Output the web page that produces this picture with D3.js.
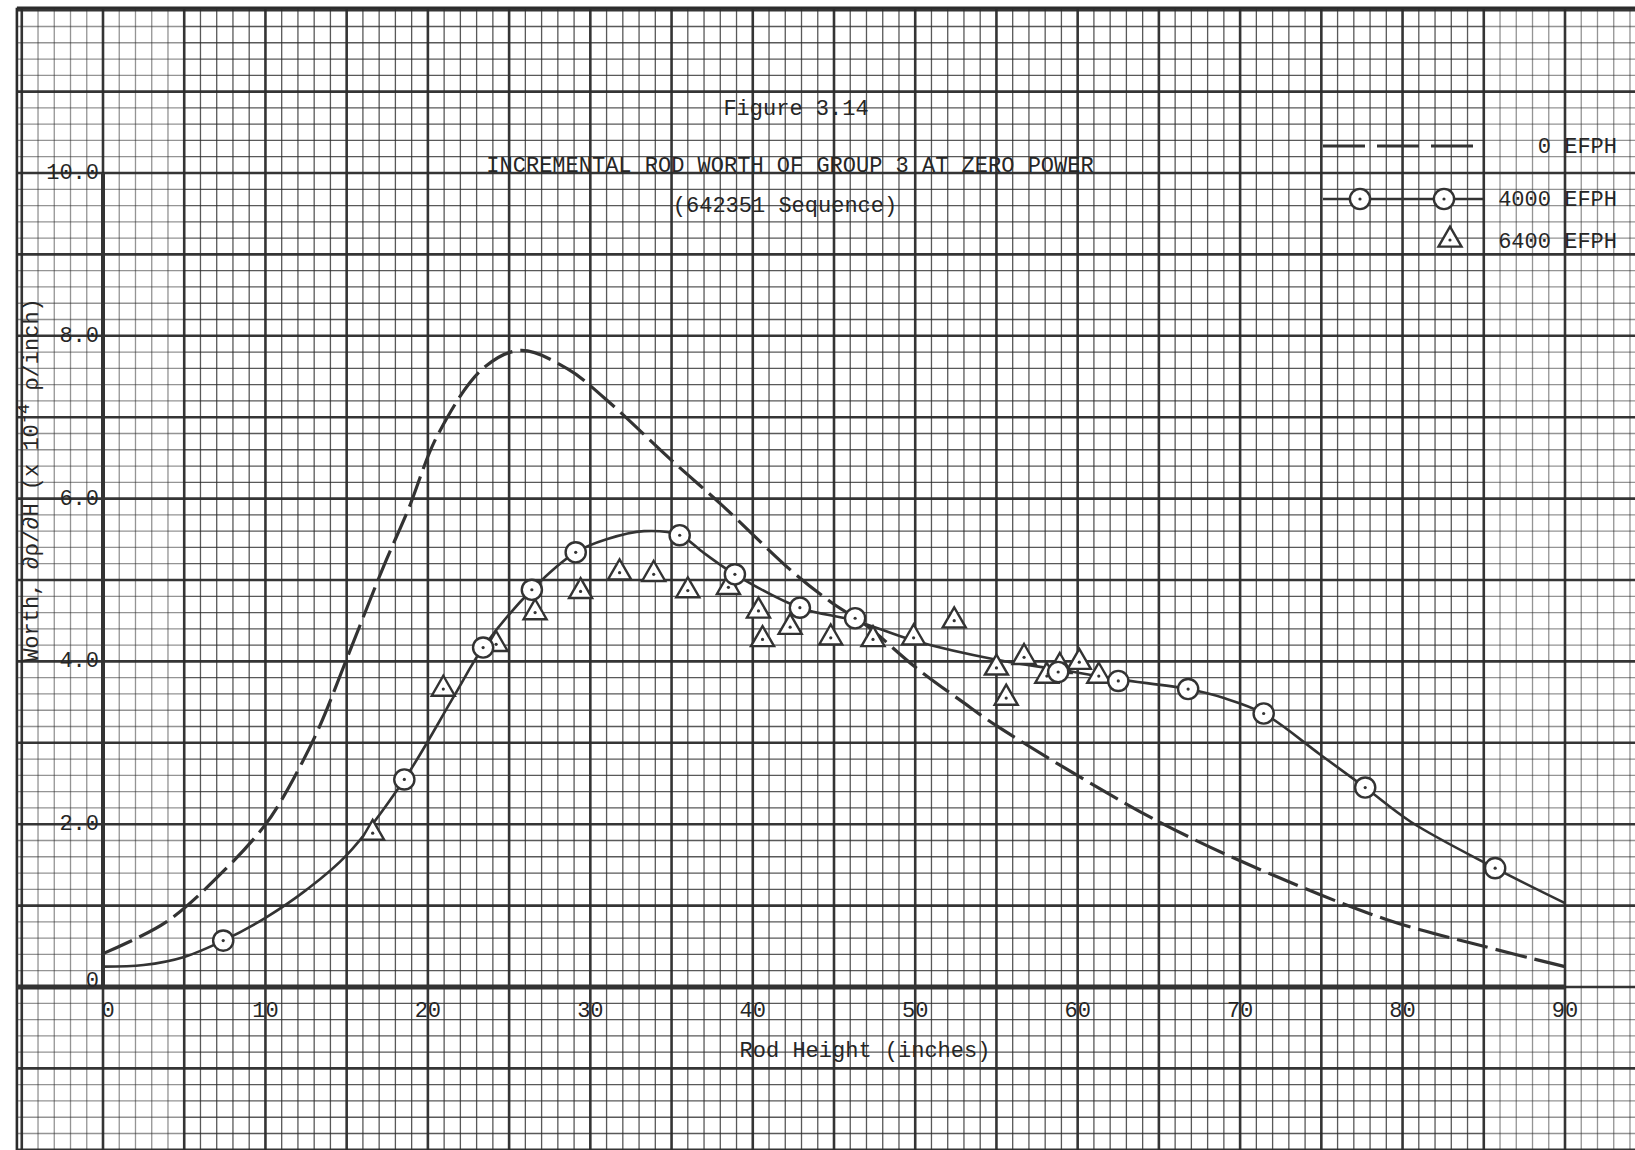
<!DOCTYPE html>
<html><head><meta charset="utf-8">
<script src="https://cdn.jsdelivr.net/npm/d3@7"></script>
<style>
body{margin:0;background:#fff}
text{font-family:"Liberation Mono","DejaVu Sans Mono",monospace;fill:#262626;font-size:22px}
</style>
</head><body>
<svg id="c" width="1635" height="1150"></svg>
<script>
// ---- data ----
const xTickValues = [0,10,20,30,40,50,60,70,80,90];
const xTickLabels = ["0","10","20","30","40","50","60","70","80","90"];
const yTickValues = [0,2,4,6,8,10];
const yTickLabels = ["0","2.0","4.0","6.0","8.0","10.0"];

// 4000 EFPH measured points (circles)
const circleX = [7.4,18.55,23.4,26.4,29.1,35.5,38.9,42.9,46.3,58.8,62.5,66.8,71.45,77.7,85.7];
const circleY = [0.57,2.55,4.17,4.88,5.34,5.55,5.07,4.66,4.53,3.87,3.76,3.66,3.36,2.45,1.46];

// 6400 EFPH measured points (triangles)
const triX = [16.6,20.95,24.2,26.6,29.4,31.8,33.9,36.0,38.5,40.35,40.6,42.3,44.8,47.4,49.9,52.4,55.0,55.6,56.7,58.1,58.9,60.1,61.3];
const triY = [1.89,3.66,4.21,4.6,4.86,5.09,5.07,4.87,4.91,4.62,4.27,4.42,4.29,4.27,4.29,4.5,3.92,3.55,4.05,3.82,3.94,3.99,3.82];

// 4000 EFPH drawn curve (solid)
const solidX = [0,2.5,5,7.4,10,12.5,15,18.55,21.6,23.4,26.4,29.1,31,33.3,35.5,37,38.9,42.9,46.3,50,55,58.8,62.5,66.8,69,71.45,74.9,77.7,80.5,85.7,90];
const solidY = [0.25,0.27,0.37,0.57,0.85,1.19,1.62,2.55,3.57,4.17,4.88,5.34,5.5,5.6,5.55,5.33,5.07,4.66,4.5,4.25,4.02,3.9,3.78,3.66,3.55,3.36,2.86,2.45,2.03,1.46,1.03];

// 0 EFPH drawn curve (dashed)
const dashX = [0,3.9,7.6,9.9,11,13.15,15,17.3,18.8,20.6,23.4,25.7,28.55,30.9,35,38.1,42.4,44.8,47,50,53,55,60.4,65.1,70.8,79,85,90];
const dashY = [0.41,0.8,1.46,1.97,2.3,3.12,4.03,5.18,5.87,6.78,7.6,7.82,7.6,7.23,6.47,5.92,5.11,4.73,4.44,3.93,3.49,3.21,2.55,2.02,1.48,0.83,0.5,0.25];

const seriesNames = ["0 EFPH","4000 EFPH","6400 EFPH"];
const titleLines = ["Figure 3.14","INCREMENTAL ROD WORTH OF GROUP 3 AT ZERO POWER","(642351 Sequence)"];
const xTitle = "Rod Height (inches)";

// ---- drawing ----
const W = 1635, H = 1150;
const svg = d3.select("#c");
const x = d3.scaleLinear().domain([0,90]).range([103,1565]);
const y = d3.scaleLinear().domain([0,10]).range([987,173]);
const ink = "#2b2b2b";

// graph paper grid
const L = x(-5.3), T = y(12.03);
const gx = d3.range(-5, 95);                    // 1-inch squares
const gy = d3.range(-10, 61).map(i => i*0.2);   // 0.2-unit squares
const grid = svg.append("g");
// minor lines are fainter in the scanned strips at the far left and far right
const faint = 0.5, normal = 0.78;
grid.selectAll("line.v").data(gx).join("line")
  .attr("x1", d => x(d)).attr("x2", d => x(d))
  .attr("y1", T).attr("y2", H)
  .attr("stroke", ink)
  .attr("stroke-width", d => d % 5 === 0 ? 2.6 : 1.3)
  .attr("opacity", d => d % 5 === 0 ? 0.95 : ((d < 5 || d > 85) ? faint : normal));
const hg = grid.selectAll("g.h").data(gy).join("g");
hg.each(function(d, i) {
  const g = d3.select(this);
  const major = i % 5 === 0;
  const segs = major ? [[L, W, 0.95]] : [[L, x(5), faint], [x(5), x(85), normal], [x(85), W, faint]];
  segs.forEach(([a, b, op]) => {
    g.append("line").attr("x1", a).attr("x2", b).attr("y1", y(d)).attr("y2", y(d))
      .attr("stroke", ink).attr("stroke-width", major ? 2.6 : 1.3).attr("opacity", op);
  });
});
// left and top paper edges
grid.append("line").attr("x1", L).attr("x2", L).attr("y1", T).attr("y2", H).attr("stroke", ink).attr("stroke-width", 2.6);
grid.append("line").attr("x1", L).attr("x2", W).attr("y1", T).attr("y2", T).attr("stroke", ink).attr("stroke-width", 2.6);

// axes
svg.append("line").attr("x1", L).attr("x2", x(90)).attr("y1", y(0)).attr("y2", y(0))
  .attr("stroke", "#333").attr("stroke-width", 5);
svg.append("line").attr("x1", x(0)).attr("x2", x(0)).attr("y1", y(10)).attr("y2", y(0))
  .attr("stroke", "#333").attr("stroke-width", 4);

// tick labels
svg.append("g").selectAll("text").data(xTickValues).join("text")
  .attr("x", d => x(d) + (d === 0 ? 5 : 0))
  .attr("y", y(0) + 30)
  .attr("text-anchor", "middle")
  .text((d,i) => xTickLabels[i]);
svg.append("g").selectAll("text").data(yTickValues).join("text")
  .attr("x", x(0) - 4)
  .attr("y", d => y(d) + (d === 0 ? 0 : 6))
  .attr("text-anchor", "end")
  .text((d,i) => yTickLabels[i]);

// axis titles
svg.append("text").attr("x", 865).attr("y", 1057).attr("text-anchor", "middle").text(xTitle);
const yt = svg.append("text").attr("transform", "translate(38,480) rotate(-90)").attr("text-anchor", "middle");
yt.append("tspan").text("Worth, ∂ρ/∂H (x 10");
yt.append("tspan").attr("dy", -9).attr("font-size", 17).text("-4");
yt.append("tspan").attr("dy", 9).text(" ρ/inch)");

// titles
svg.append("text").attr("x", 796).attr("y", 115).attr("text-anchor", "middle").text(titleLines[0]);
svg.append("text").attr("x", 790).attr("y", 172).attr("text-anchor", "middle").text(titleLines[1]);
svg.append("text").attr("x", 785).attr("y", 212).attr("text-anchor", "middle").text(titleLines[2]);

// curves
const line = d3.line().x(d => x(d[0])).y(d => y(d[1])).curve(d3.curveCatmullRom.alpha(0.5));
svg.append("path").datum(dashX.map((v,i) => [v, dashY[i]]))
  .attr("d", line).attr("fill", "none").attr("stroke", "#333")
  .attr("stroke-width", 3.2).attr("stroke-dasharray", "32,8");
svg.append("path").datum(solidX.map((v,i) => [v, solidY[i]]))
  .attr("d", line).attr("fill", "none").attr("stroke", "#333")
  .attr("stroke-width", 2.6);

// markers
const circSym = d3.symbol(d3.symbolCircle, 320);
const triSym = d3.symbol(d3.symbolTriangle, 230);
function drawMarkers(xs, ys, sym) {
  const g = svg.append("g").selectAll("g").data(xs.map((v,i) => [v, ys[i]])).join("g")
    .attr("transform", d => `translate(${x(d[0])},${y(d[1])})`);
  g.append("path").attr("d", sym).attr("fill", "#fff").attr("stroke", "#333").attr("stroke-width", 2.4);
  g.append("circle").attr("r", 1.6).attr("fill", "#333");
}
drawMarkers(triX, triY, triSym);
drawMarkers(circleX, circleY, circSym);

// legend
const lg = svg.append("g");
lg.append("line").attr("x1", 1323).attr("x2", 1478).attr("y1", 146).attr("y2", 146)
  .attr("stroke", "#333").attr("stroke-width", 3).attr("stroke-dasharray", "42,12");
lg.append("line").attr("x1", 1323).attr("x2", 1485).attr("y1", 199).attr("y2", 199)
  .attr("stroke", "#333").attr("stroke-width", 2.6);
[1360, 1444].forEach(cx => {
  const g = lg.append("g").attr("transform", `translate(${cx},199)`);
  g.append("path").attr("d", circSym).attr("fill", "#fff").attr("stroke", "#333").attr("stroke-width", 2.4);
  g.append("circle").attr("r", 1.6).attr("fill", "#333");
});
{
  const g = lg.append("g").attr("transform", "translate(1450,240)");
  g.append("path").attr("d", triSym).attr("fill", "#fff").attr("stroke", "#333").attr("stroke-width", 2.4);
  g.append("circle").attr("r", 1.6).attr("fill", "#333");
}
[[146, 0],[199, 1],[241, 2]].forEach(([ly, i]) => {
  lg.append("text").attr("x", 1617).attr("y", ly + 7).attr("text-anchor", "end").text(seriesNames[i]);
});
</script>
</body></html>
